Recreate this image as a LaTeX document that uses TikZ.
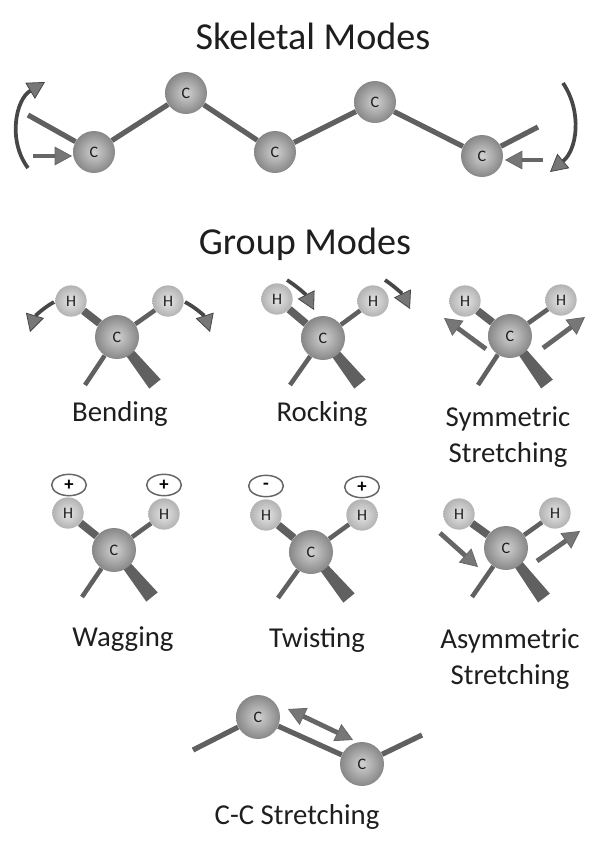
\documentclass[tikz,border=0pt]{standalone}
\usepackage{fontspec}
\setmainfont{Carlito}
\usetikzlibrary{arrows.meta,calc,shapes.geometric}
\definecolor{bondgray}{HTML}{606060}
\definecolor{arrowgray}{HTML}{666666}
\definecolor{tipgray}{HTML}{777777}
\definecolor{inkgray}{HTML}{1E1E1E}
\tikzset{
  headtip/.tip={Triangle[length=13pt,width=14pt,line width=0.6pt,fill=tipgray]},
  carbon/.style={circle, minimum size=31.5pt, inner sep=0pt, inner color=black!18, outer color=black!47, text=inkgray, font=\fontsize{12}{12}\selectfont},
  groupcarbon/.style={carbon, minimum size=33pt},
  hydrogen/.style={circle, minimum size=23.5pt, inner sep=0pt, inner color=black!10, outer color=black!30, text=inkgray, font=\fontsize{12}{12}\selectfont},
  bond/.style={draw=bondgray, line width=3.9pt},
  fatbond/.style={draw=bondgray, line width=5.8pt},
  thinbond/.style={draw=bondgray, line width=3.4pt},
  move/.style={draw=arrowgray, line width=3.6pt, -headtip},
  swing/.style={draw=arrowgray!70!black, line width=2.8pt, -headtip},
  phase/.style={ellipse, draw=black!60, line width=1.1pt, minimum width=26pt, minimum height=16pt, inner sep=0pt, font=\bfseries\fontsize{14}{14}\selectfont},
  title/.style={text=inkgray, font=\fontsize{28.6}{32}\selectfont},
  caption/.style={text=inkgray, align=center, font=\fontsize{21.6}{27}\selectfont}
}
% one CH2 group: name, C, H left, H right, leg end, wedge end
\newcommand{\ChTwo}[6]{
  \coordinate (#1p) at #2;
  \coordinate (#1l) at #5;
  \coordinate (#1w) at #6;
  \fill[bondgray] ($(#1p)!2.5pt!90:(#1w)$) -- ($(#1p)!2.5pt!-90:(#1w)$) -- ($(#1w)!5.5pt!90:(#1p)$) -- ($(#1w)!5.5pt!-90:(#1p)$) -- cycle;
  \node[groupcarbon] (#1c) at (#1p) {C};
  \node[hydrogen] (#1a) at #3 {H};
  \node[hydrogen] (#1b) at #4 {H};
  \draw[fatbond] (#1c) -- (#1a);
  \draw[thinbond] (#1c) -- (#1b);
  \draw[thinbond] (#1c) -- (#1l);
}
\begin{document}
\begin{tikzpicture}[x=0.75pt, y=-0.75pt]
 \useasboundingbox (0,0) rectangle (609,847);

 % skeletal modes
 \node[title] (skel) at (313,36) {Skeletal Modes};
 \node[carbon] (c1) at (94,152) {C};
 \node[carbon] (c2) at (186,93) {C};
 \node[carbon] (c3) at (275,152) {C};
 \node[carbon] (c4) at (375,102) {C};
 \node[carbon] (c5) at (482,156) {C};
 \coordinate (e1) at (28,115);
 \coordinate (e5) at (538,127);
 \path[bond] (e1) edge (c1) (c1) edge (c2) (c2) edge (c3) (c3) edge (c4) (c4) edge (c5) (c5) edge (e5);
 \coordinate (s1a) at (28,168);
 \coordinate (s1b) at (45,82);
 \coordinate (s2a) at (33,156);
 \coordinate (s2b) at (72,156);
 \coordinate (s3a) at (543,160);
 \coordinate (s3b) at (505,160);
 \coordinate (s4a) at (563,83);
 \coordinate (s4b) at (550,172);
 \draw[swing] (s1a) to[bend left=48] (s1b);
 \draw[move] (s2a) -- (s2b);
 \draw[move] (s3a) -- (s3b);
 \draw[swing] (s4a) to[bend left=42] (s4b);

 % group modes
 \node[title] (grp) at (305,244) {Group Modes};
 \ChTwo{ben}{(117,337)}{(71,301)}{(168,301)}{(85,385)}{(155,384)}
 \ChTwo{roc}{(323,338)}{(277,299)}{(373,301)}{(290,385)}{(360,384)}
 \ChTwo{sym}{(510,336)}{(465,301)}{(561,300)}{(478,385)}{(547,384)}
 \ChTwo{wag}{(114,550)}{(68,513)}{(164,514)}{(82,597)}{(152,597)}
 \ChTwo{twi}{(311,552)}{(266,515)}{(362,515)}{(278,598)}{(349,598)}
 \ChTwo{asy}{(506,548)}{(459,514)}{(555,513)}{(472,597)}{(544,598)}

 \coordinate (b1a) at (54,302);
 \coordinate (b1b) at (30,332);
 \coordinate (b2a) at (185,302);
 \coordinate (b2b) at (210,332);
 \draw[swing] (b1a) to[bend right=22] (b1b);
 \draw[swing] (b2a) to[bend left=22] (b2b);
 \coordinate (r1a) at (287,280);
 \coordinate (r1b) at (314,310);
 \coordinate (r2a) at (385,280);
 \coordinate (r2b) at (410,309);
 \draw[swing] (r1a) to[bend left=15] (r1b);
 \draw[swing] (r2a) to[bend left=15] (r2b);
 \coordinate (y1a) at (486,349);
 \coordinate (y1b) at (444,318);
 \coordinate (y2a) at (543,348);
 \coordinate (y2b) at (585,317);
 \draw[move] (y1a) -- (y1b);
 \draw[move] (y2a) -- (y2b);
 \coordinate (x1a) at (440,533);
 \coordinate (x1b) at (478,567);
 \coordinate (x2a) at (537,561);
 \coordinate (x2b) at (580,531);
 \draw[move] (x1a) -- (x1b);
 \draw[move] (x2a) -- (x2b);

 \node[phase] (wagp1) at (69,485) {+};
 \node[phase] (wagp2) at (164,485) {+};
 \node[phase] (twip1) at (266,486) {-};
 \node[phase] (twip2) at (362,487) {+};

 \node[caption] (lben) at (120,414) {Bending};
 \node[caption] (lroc) at (322,414) {Rocking};
 \node[caption] (lsym) at (508,437) {Symmetric\\Stretching};
 \node[caption] (lwag) at (123,639) {Wagging};
 \node[caption] (ltwi) at (317,640) {Twisting};
 \node[caption] (lasy) at (510,659) {Asymmetric\\Stretching};

 % c-c stretching
 \node[groupcarbon] (d1) at (258,717) {C};
 \node[groupcarbon] (d2) at (362,764) {C};
 \coordinate (f1) at (193,750);
 \coordinate (f2) at (422,735);
 \path[bond] (f1) edge (d1) (d1) edge (d2) (d2) edge (f2);
 \coordinate (g1) at (288,709);
 \coordinate (g2) at (353,740);
 \draw[move, headtip-headtip] (g1) -- (g2);
 \node[caption] (lcc) at (297,817) {C-C Stretching};
\end{tikzpicture}
\end{document}
